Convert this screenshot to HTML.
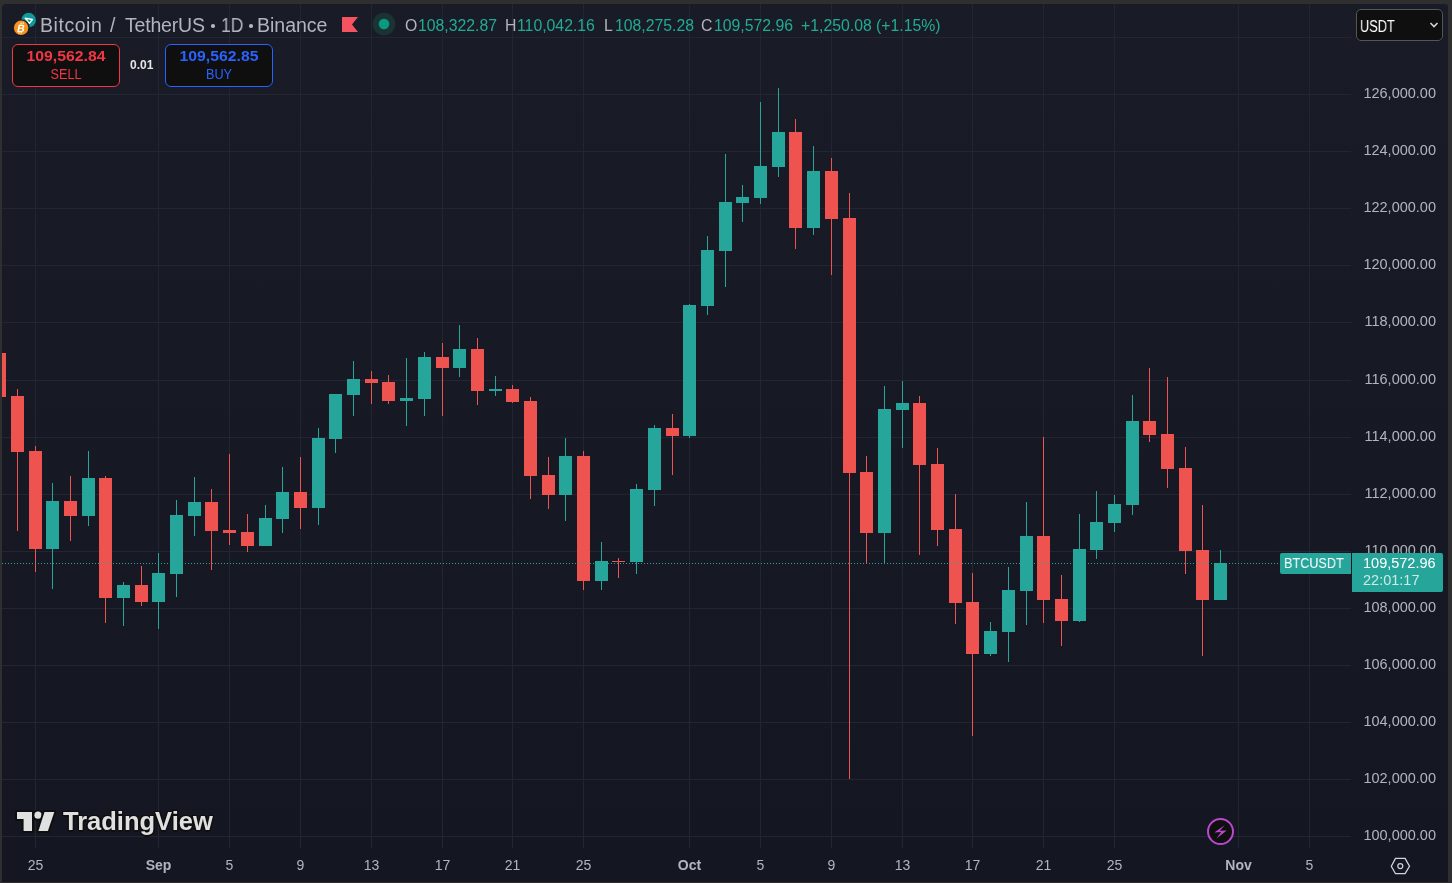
<!DOCTYPE html>
<html><head><meta charset="utf-8">
<style>
:root{--grid:#232632;}
html,body{margin:0;padding:0;}
body{width:1452px;height:883px;overflow:hidden;background:#2f2f2f;position:relative;font-family:"Liberation Sans",sans-serif;}
body>div{will-change:transform;}
.chart{position:absolute;left:2px;top:4px;width:1446px;height:878px;border-radius:4px 3px 0 0;background:linear-gradient(to bottom,#191c27 0%,#141721 100%);overflow:hidden;}
svg.main{position:absolute;left:0;top:0;}
.pl{position:absolute;right:16.5px;width:100px;text-align:right;font-size:14.5px;line-height:18px;color:#b2b5be;margin-top:-1px;}
.tl{position:absolute;top:856px;width:61px;text-align:center;font-size:14px;line-height:18px;color:#b2b5be;}
.tl.b{font-weight:bold;}
.legend{position:absolute;top:12px;font-size:19.5px;line-height:26px;color:#b2b5be;white-space:nowrap;}
.ohlc{position:absolute;top:15.5px;font-size:15.8px;line-height:20px;white-space:nowrap;color:#22ab94;}
.ohlc.k{color:#b2b5be;}
.btn{position:absolute;top:44px;width:106px;height:41px;border-radius:6px;background:#0f0f0f;text-align:center;}
.btn .v{position:absolute;left:0;right:0;top:1.8px;font-weight:bold;font-size:14.6px;line-height:18px;transform:scaleX(1.08);}
.btn .s{position:absolute;left:0;right:0;top:21.5px;font-size:13.8px;line-height:16px;transform:scaleX(0.92);}
</style></head>
<body>
<div class="chart"></div>
<svg class="main" width="1452" height="883" viewBox="0 0 1452 883" shape-rendering="crispEdges">
<defs><clipPath id="pane"><rect x="2" y="4" width="1349" height="844"/></clipPath></defs>
<g clip-path="url(#pane)">
<rect x="2" y="37" width="1349" height="1" fill="var(--grid)"/>
<rect x="2" y="94" width="1349" height="1" fill="var(--grid)"/>
<rect x="2" y="151" width="1349" height="1" fill="var(--grid)"/>
<rect x="2" y="208" width="1349" height="1" fill="var(--grid)"/>
<rect x="2" y="265" width="1349" height="1" fill="var(--grid)"/>
<rect x="2" y="322" width="1349" height="1" fill="var(--grid)"/>
<rect x="2" y="380" width="1349" height="1" fill="var(--grid)"/>
<rect x="2" y="437" width="1349" height="1" fill="var(--grid)"/>
<rect x="2" y="494" width="1349" height="1" fill="var(--grid)"/>
<rect x="2" y="551" width="1349" height="1" fill="var(--grid)"/>
<rect x="2" y="608" width="1349" height="1" fill="var(--grid)"/>
<rect x="2" y="665" width="1349" height="1" fill="var(--grid)"/>
<rect x="2" y="722" width="1349" height="1" fill="var(--grid)"/>
<rect x="2" y="779" width="1349" height="1" fill="var(--grid)"/>
<rect x="2" y="836" width="1349" height="1" fill="var(--grid)"/>
<rect x="35" y="4" width="1" height="844" fill="var(--grid)"/>
<rect x="158" y="4" width="1" height="844" fill="var(--grid)"/>
<rect x="229" y="4" width="1" height="844" fill="var(--grid)"/>
<rect x="300" y="4" width="1" height="844" fill="var(--grid)"/>
<rect x="371" y="4" width="1" height="844" fill="var(--grid)"/>
<rect x="442" y="4" width="1" height="844" fill="var(--grid)"/>
<rect x="512" y="4" width="1" height="844" fill="var(--grid)"/>
<rect x="583" y="4" width="1" height="844" fill="var(--grid)"/>
<rect x="689" y="4" width="1" height="844" fill="var(--grid)"/>
<rect x="760" y="4" width="1" height="844" fill="var(--grid)"/>
<rect x="831" y="4" width="1" height="844" fill="var(--grid)"/>
<rect x="902" y="4" width="1" height="844" fill="var(--grid)"/>
<rect x="972" y="4" width="1" height="844" fill="var(--grid)"/>
<rect x="1043" y="4" width="1" height="844" fill="var(--grid)"/>
<rect x="1114" y="4" width="1" height="844" fill="var(--grid)"/>
<rect x="1238" y="4" width="1" height="844" fill="var(--grid)"/>
<rect x="1309" y="4" width="1" height="844" fill="var(--grid)"/>
<rect x="-1" y="353" width="1" height="44" fill="#ef5350"/>
<rect x="-7" y="353" width="13" height="44" fill="#ef5350"/>
<rect x="17" y="389" width="1" height="142" fill="#ef5350"/>
<rect x="11" y="396" width="13" height="56" fill="#ef5350"/>
<rect x="35" y="446" width="1" height="126" fill="#ef5350"/>
<rect x="29" y="451" width="13" height="98" fill="#ef5350"/>
<rect x="52" y="483" width="1" height="106" fill="#26a69a"/>
<rect x="46" y="501" width="13" height="48" fill="#26a69a"/>
<rect x="70" y="476" width="1" height="65" fill="#ef5350"/>
<rect x="64" y="501" width="13" height="15" fill="#ef5350"/>
<rect x="88" y="451" width="1" height="75" fill="#26a69a"/>
<rect x="82" y="478" width="13" height="38" fill="#26a69a"/>
<rect x="105" y="476" width="1" height="147" fill="#ef5350"/>
<rect x="99" y="478" width="13" height="120" fill="#ef5350"/>
<rect x="123" y="582" width="1" height="44" fill="#26a69a"/>
<rect x="117" y="585" width="13" height="13" fill="#26a69a"/>
<rect x="141" y="566" width="1" height="40" fill="#ef5350"/>
<rect x="135" y="585" width="13" height="17" fill="#ef5350"/>
<rect x="158" y="553" width="1" height="76" fill="#26a69a"/>
<rect x="152" y="573" width="13" height="29" fill="#26a69a"/>
<rect x="176" y="500" width="1" height="97" fill="#26a69a"/>
<rect x="170" y="515" width="13" height="59" fill="#26a69a"/>
<rect x="194" y="477" width="1" height="59" fill="#26a69a"/>
<rect x="188" y="502" width="13" height="14" fill="#26a69a"/>
<rect x="211" y="489" width="1" height="81" fill="#ef5350"/>
<rect x="205" y="502" width="13" height="29" fill="#ef5350"/>
<rect x="229" y="454" width="1" height="91" fill="#ef5350"/>
<rect x="223" y="530" width="13" height="3" fill="#ef5350"/>
<rect x="247" y="514" width="1" height="38" fill="#ef5350"/>
<rect x="241" y="532" width="13" height="14" fill="#ef5350"/>
<rect x="265" y="505" width="1" height="41" fill="#26a69a"/>
<rect x="259" y="518" width="13" height="28" fill="#26a69a"/>
<rect x="282" y="467" width="1" height="66" fill="#26a69a"/>
<rect x="276" y="492" width="13" height="27" fill="#26a69a"/>
<rect x="300" y="457" width="1" height="72" fill="#ef5350"/>
<rect x="294" y="492" width="13" height="16" fill="#ef5350"/>
<rect x="318" y="428" width="1" height="97" fill="#26a69a"/>
<rect x="312" y="438" width="13" height="70" fill="#26a69a"/>
<rect x="335" y="394" width="1" height="59" fill="#26a69a"/>
<rect x="329" y="394" width="13" height="45" fill="#26a69a"/>
<rect x="353" y="361" width="1" height="55" fill="#26a69a"/>
<rect x="347" y="379" width="13" height="16" fill="#26a69a"/>
<rect x="371" y="371" width="1" height="33" fill="#ef5350"/>
<rect x="365" y="379" width="13" height="4" fill="#ef5350"/>
<rect x="388" y="375" width="1" height="29" fill="#ef5350"/>
<rect x="382" y="382" width="13" height="19" fill="#ef5350"/>
<rect x="406" y="358" width="1" height="68" fill="#26a69a"/>
<rect x="400" y="398" width="13" height="3" fill="#26a69a"/>
<rect x="424" y="352" width="1" height="64" fill="#26a69a"/>
<rect x="418" y="357" width="13" height="42" fill="#26a69a"/>
<rect x="442" y="343" width="1" height="73" fill="#ef5350"/>
<rect x="436" y="357" width="13" height="11" fill="#ef5350"/>
<rect x="459" y="325" width="1" height="52" fill="#26a69a"/>
<rect x="453" y="349" width="13" height="19" fill="#26a69a"/>
<rect x="477" y="338" width="1" height="67" fill="#ef5350"/>
<rect x="471" y="349" width="13" height="42" fill="#ef5350"/>
<rect x="495" y="376" width="1" height="20" fill="#26a69a"/>
<rect x="489" y="389" width="13" height="2" fill="#26a69a"/>
<rect x="512" y="385" width="1" height="18" fill="#ef5350"/>
<rect x="506" y="389" width="13" height="13" fill="#ef5350"/>
<rect x="530" y="397" width="1" height="102" fill="#ef5350"/>
<rect x="524" y="401" width="13" height="75" fill="#ef5350"/>
<rect x="548" y="457" width="1" height="52" fill="#ef5350"/>
<rect x="542" y="475" width="13" height="20" fill="#ef5350"/>
<rect x="565" y="438" width="1" height="83" fill="#26a69a"/>
<rect x="559" y="456" width="13" height="39" fill="#26a69a"/>
<rect x="583" y="451" width="1" height="139" fill="#ef5350"/>
<rect x="577" y="456" width="13" height="125" fill="#ef5350"/>
<rect x="601" y="542" width="1" height="48" fill="#26a69a"/>
<rect x="595" y="561" width="13" height="20" fill="#26a69a"/>
<rect x="618" y="558" width="1" height="20" fill="#ef5350"/>
<rect x="612" y="561" width="13" height="1" fill="#ef5350"/>
<rect x="636" y="484" width="1" height="90" fill="#26a69a"/>
<rect x="630" y="489" width="13" height="73" fill="#26a69a"/>
<rect x="654" y="425" width="1" height="81" fill="#26a69a"/>
<rect x="648" y="428" width="13" height="62" fill="#26a69a"/>
<rect x="672" y="414" width="1" height="61" fill="#ef5350"/>
<rect x="666" y="428" width="13" height="8" fill="#ef5350"/>
<rect x="689" y="304" width="1" height="134" fill="#26a69a"/>
<rect x="683" y="305" width="13" height="131" fill="#26a69a"/>
<rect x="707" y="236" width="1" height="79" fill="#26a69a"/>
<rect x="701" y="250" width="13" height="56" fill="#26a69a"/>
<rect x="725" y="154" width="1" height="133" fill="#26a69a"/>
<rect x="719" y="202" width="13" height="49" fill="#26a69a"/>
<rect x="742" y="185" width="1" height="37" fill="#26a69a"/>
<rect x="736" y="197" width="13" height="6" fill="#26a69a"/>
<rect x="760" y="102" width="1" height="102" fill="#26a69a"/>
<rect x="754" y="166" width="13" height="32" fill="#26a69a"/>
<rect x="778" y="88" width="1" height="89" fill="#26a69a"/>
<rect x="772" y="132" width="13" height="35" fill="#26a69a"/>
<rect x="795" y="119" width="1" height="130" fill="#ef5350"/>
<rect x="789" y="132" width="13" height="96" fill="#ef5350"/>
<rect x="813" y="146" width="1" height="89" fill="#26a69a"/>
<rect x="807" y="171" width="13" height="57" fill="#26a69a"/>
<rect x="831" y="158" width="1" height="117" fill="#ef5350"/>
<rect x="825" y="171" width="13" height="48" fill="#ef5350"/>
<rect x="849" y="193" width="1" height="586" fill="#ef5350"/>
<rect x="843" y="218" width="13" height="255" fill="#ef5350"/>
<rect x="866" y="456" width="1" height="108" fill="#ef5350"/>
<rect x="860" y="472" width="13" height="61" fill="#ef5350"/>
<rect x="884" y="386" width="1" height="178" fill="#26a69a"/>
<rect x="878" y="409" width="13" height="124" fill="#26a69a"/>
<rect x="902" y="381" width="1" height="67" fill="#26a69a"/>
<rect x="896" y="403" width="13" height="7" fill="#26a69a"/>
<rect x="919" y="396" width="1" height="159" fill="#ef5350"/>
<rect x="913" y="403" width="13" height="62" fill="#ef5350"/>
<rect x="937" y="448" width="1" height="98" fill="#ef5350"/>
<rect x="931" y="464" width="13" height="66" fill="#ef5350"/>
<rect x="955" y="494" width="1" height="130" fill="#ef5350"/>
<rect x="949" y="529" width="13" height="74" fill="#ef5350"/>
<rect x="972" y="573" width="1" height="163" fill="#ef5350"/>
<rect x="966" y="602" width="13" height="52" fill="#ef5350"/>
<rect x="990" y="622" width="1" height="34" fill="#26a69a"/>
<rect x="984" y="631" width="13" height="23" fill="#26a69a"/>
<rect x="1008" y="567" width="1" height="95" fill="#26a69a"/>
<rect x="1002" y="590" width="13" height="42" fill="#26a69a"/>
<rect x="1026" y="502" width="1" height="123" fill="#26a69a"/>
<rect x="1020" y="536" width="13" height="55" fill="#26a69a"/>
<rect x="1043" y="437" width="1" height="186" fill="#ef5350"/>
<rect x="1037" y="536" width="13" height="64" fill="#ef5350"/>
<rect x="1061" y="575" width="1" height="71" fill="#ef5350"/>
<rect x="1055" y="599" width="13" height="22" fill="#ef5350"/>
<rect x="1079" y="514" width="1" height="108" fill="#26a69a"/>
<rect x="1073" y="549" width="13" height="72" fill="#26a69a"/>
<rect x="1096" y="491" width="1" height="68" fill="#26a69a"/>
<rect x="1090" y="522" width="13" height="28" fill="#26a69a"/>
<rect x="1114" y="495" width="1" height="37" fill="#26a69a"/>
<rect x="1108" y="504" width="13" height="19" fill="#26a69a"/>
<rect x="1132" y="395" width="1" height="120" fill="#26a69a"/>
<rect x="1126" y="421" width="13" height="84" fill="#26a69a"/>
<rect x="1149" y="368" width="1" height="74" fill="#ef5350"/>
<rect x="1143" y="421" width="13" height="14" fill="#ef5350"/>
<rect x="1167" y="377" width="1" height="111" fill="#ef5350"/>
<rect x="1161" y="434" width="13" height="35" fill="#ef5350"/>
<rect x="1185" y="447" width="1" height="127" fill="#ef5350"/>
<rect x="1179" y="468" width="13" height="83" fill="#ef5350"/>
<rect x="1202" y="505" width="1" height="151" fill="#ef5350"/>
<rect x="1196" y="550" width="13" height="50" fill="#ef5350"/>
<rect x="1220" y="550" width="1" height="50" fill="#26a69a"/>
<rect x="1214" y="563" width="13" height="37" fill="#26a69a"/>
<line x1="2" y1="563.5" x2="1280" y2="563.5" stroke="#26a69a" stroke-width="1" stroke-dasharray="1 2"/>
</g>
</svg>

<!-- legend -->
<svg style="position:absolute;left:10px;top:9px" width="30" height="30" viewBox="10 9 30 30">
  <circle cx="28.6" cy="20.1" r="7.3" fill="#0e9a98"/>
  <path d="M25.2 18.2 L32.4 19.5 L29.4 23.4 Z" fill="none" stroke="#fff" stroke-width="1.3" stroke-linejoin="round"/>
  <circle cx="21.1" cy="27.8" r="8.6" fill="#191c27"/>
  <circle cx="21.1" cy="27.8" r="7.2" fill="#f7931a"/>
  <g transform="translate(21.1 28) skewX(-12)">
    <text x="0" y="3.9" font-family="Liberation Sans" font-weight="bold" font-size="10.5" fill="#fff" text-anchor="middle">B</text>
    <rect x="-1.6" y="-5.6" width="1" height="1.8" fill="#fff"/><rect x="0.6" y="-5.6" width="1" height="1.8" fill="#fff"/>
    <rect x="-1.6" y="3.6" width="1" height="1.8" fill="#fff"/><rect x="0.6" y="3.6" width="1" height="1.8" fill="#fff"/>
  </g>
</svg>
<div class="legend" id="lg1" style="left:40px;letter-spacing:0.55px">Bitcoin</div>
<div class="legend" id="lg2" style="left:110px">/</div>
<div class="legend" id="lg3" style="left:125px;letter-spacing:-0.2px">TetherUS</div>
<div style="position:absolute;left:210.8px;top:23.5px;width:3.6px;height:3.6px;border-radius:50%;background:#b2b5be"></div>
<div class="legend" id="lg4" style="left:220.5px;transform:scaleX(0.9);transform-origin:0 0">1D</div>
<div style="position:absolute;left:248.8px;top:23.5px;width:3.6px;height:3.6px;border-radius:50%;background:#b2b5be"></div>
<div class="legend" id="lg5" style="left:257px">Binance</div>
<svg style="position:absolute;left:342px;top:17px" width="17" height="16" viewBox="0 0 17 16"><path d="M0 0 H16 L10 7.5 L16 15 H0 Z" fill="#f7525f"/></svg>
<svg style="position:absolute;left:372px;top:12px" width="24" height="24" viewBox="0 0 24 24"><circle cx="12" cy="12" r="11.3" fill="#1b3432"/><circle cx="12" cy="12" r="5.3" fill="#089981"/></svg>
<div class="ohlc k" style="left:405px">O</div><div class="ohlc" style="left:418px">108,322.87</div>
<div class="ohlc k" style="left:505px">H</div><div class="ohlc" style="left:517px">110,042.16</div>
<div class="ohlc k" style="left:604px">L</div><div class="ohlc" style="left:615px">108,275.28</div>
<div class="ohlc k" style="left:701px">C</div><div class="ohlc" style="left:714px">109,572.96</div>
<div class="ohlc" style="left:801px">+1,250.08</div><div class="ohlc" style="left:876px">(+1.15%)</div>

<div class="btn" style="left:12px;border:1px solid #f23645;"><div class="v" style="color:#f23645">109,562.84</div><div class="s" style="color:#f23645">SELL</div></div>
<div style="position:absolute;left:130px;top:56.5px;font-size:12px;line-height:16px;font-weight:bold;color:#e6e6e6">0.01</div>
<div class="btn" style="left:165px;border:1px solid #2962ff;"><div class="v" style="color:#2962ff">109,562.85</div><div class="s" style="color:#2962ff">BUY</div></div>

<!-- USDT dropdown -->
<div style="position:absolute;left:1356px;top:9px;width:85px;height:30px;border:1px solid #555;border-radius:5px;background:#0f0f0f;"></div>
<div style="position:absolute;left:1360px;top:18px;font-size:16px;line-height:18px;color:#fff;transform:scaleX(0.8);transform-origin:0 0">USDT</div>
<svg style="position:absolute;left:1428px;top:20px" width="12" height="10" viewBox="0 0 12 10"><path d="M2.5 3 L6 6.5 L9.5 3" fill="none" stroke="#d1d4dc" stroke-width="1.6"/></svg>

<div class="pl" style="top:85px">126,000.00</div>
<div class="pl" style="top:142px">124,000.00</div>
<div class="pl" style="top:199px">122,000.00</div>
<div class="pl" style="top:256px">120,000.00</div>
<div class="pl" style="top:313px">118,000.00</div>
<div class="pl" style="top:371px">116,000.00</div>
<div class="pl" style="top:428px">114,000.00</div>
<div class="pl" style="top:485px">112,000.00</div>
<div class="pl" style="top:542px">110,000.00</div>
<div class="pl" style="top:599px">108,000.00</div>
<div class="pl" style="top:656px">106,000.00</div>
<div class="pl" style="top:713px">104,000.00</div>
<div class="pl" style="top:770px">102,000.00</div>
<div class="pl" style="top:827px">100,000.00</div>
<div class="tl" style="left:5px">25</div>
<div class="tl b" style="left:128px">Sep</div>
<div class="tl" style="left:199px">5</div>
<div class="tl" style="left:270px">9</div>
<div class="tl" style="left:341px">13</div>
<div class="tl" style="left:412px">17</div>
<div class="tl" style="left:482px">21</div>
<div class="tl" style="left:553px">25</div>
<div class="tl b" style="left:659px">Oct</div>
<div class="tl" style="left:730px">5</div>
<div class="tl" style="left:801px">9</div>
<div class="tl" style="left:872px">13</div>
<div class="tl" style="left:942px">17</div>
<div class="tl" style="left:1013px">21</div>
<div class="tl" style="left:1084px">25</div>
<div class="tl b" style="left:1208px">Nov</div>
<div class="tl" style="left:1279px">5</div>

<!-- last price labels -->
<div style="position:absolute;left:1280px;top:553px;width:71px;height:21px;background:#26a69a;border-radius:2px 0 0 2px;"></div>
<div style="position:absolute;left:1284px;top:553px;font-size:15px;line-height:19px;color:#fff;transform:scaleX(0.843);transform-origin:0 0">BTCUSDT</div>
<div style="position:absolute;left:1352px;top:553px;width:91px;height:39px;background:#26a69a;border-radius:0 2px 2px 0;"></div>
<div style="position:absolute;left:1363px;top:554px;font-size:14.5px;line-height:18px;color:#fff">109,572.96</div>
<div style="position:absolute;left:1363px;top:571px;font-size:14.5px;line-height:18px;color:#cfe9e5">22:01:17</div>

<!-- TradingView logo -->
<svg style="position:absolute;left:0;top:800px" width="60" height="40" viewBox="0 800 60 40">
  <g fill="#e0e0e0" stroke="#0f0f0f" stroke-width="4" stroke-linejoin="round" paint-order="stroke">
  <path d="M17 812 H32 V831 H23.6 V819 H17 Z"/>
  <circle cx="38" cy="815.2" r="3.6"/>
  <path d="M44.5 812 H54.3 L47.9 831 H38.4 Z"/>
  </g>
</svg>
<div style="position:absolute;left:63px;top:806px;font-size:25.5px;line-height:30px;font-weight:bold;color:#e0e0e0;text-shadow:1.5px 0 0 #0f0f0f,-1.5px 0 0 #0f0f0f,0 1.5px 0 #0f0f0f,0 -1.5px 0 #0f0f0f,1px 1px 0 #0f0f0f,-1px -1px 0 #0f0f0f,1px -1px 0 #0f0f0f,-1px 1px 0 #0f0f0f;">TradingView</div>

<!-- lightning -->
<svg style="position:absolute;left:1205px;top:816px" width="31" height="31" viewBox="0 0 31 31">
  <circle cx="15.5" cy="15.5" r="12.5" fill="#0f0f0f" stroke="#bb48cf" stroke-width="2"/>
  <path d="M19.8 9 L9.4 16.5 L16.2 16.1 L11.5 22.4 L21.7 14.4 L14.8 14.7 Z" fill="#bb48cf"/>
</svg>
<!-- settings -->
<svg style="position:absolute;left:1388px;top:855px" width="24" height="22" viewBox="1388 855 24 22">
  <path d="M1391.3 866.3 L1395.5 858.4 H1405.1 L1409.5 866.3 L1405.1 873.7 H1395.5 Z" fill="none" stroke="#d1d4dc" stroke-width="1.3"/>
  <circle cx="1400.3" cy="866.1" r="2.5" fill="none" stroke="#d1d4dc" stroke-width="1.2"/>
</svg>
</body></html>
